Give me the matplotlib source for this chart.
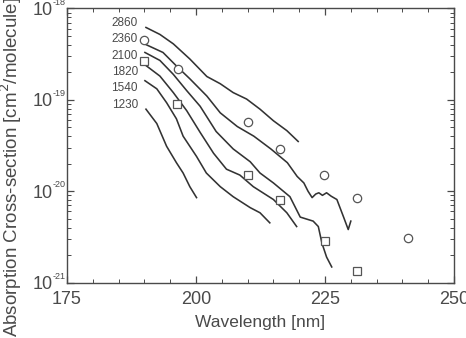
import numpy as np
import matplotlib
matplotlib.use("Agg")
import matplotlib.pyplot as plt
import matplotlib.transforms as mtransforms
from matplotlib.ticker import MultipleLocator, LogLocator, FixedLocator, FixedFormatter

plt.rcParams['font.family'] = ['Liberation Sans', 'DejaVu Sans']

# curve data (wavelength nm, cross-section cm^2/molecule), labels are temperatures
labels = ["2860", "2360", "2100", "1820", "1540", "1230"]

wl_2860 = [190.3, 193.0, 195.6, 198.8, 202.1, 204.7, 207.2, 209.8, 212.4, 215.0, 217.6, 219.8]
xs_2860 = [6.2e-19, 5.2e-19, 4.1e-19, 2.8e-19, 1.8e-19, 1.5e-19, 1.2e-19, 1.02e-19, 7.9e-20, 5.9e-20, 4.6e-20, 3.5e-20]

wl_2360 = [190.4, 193.6, 196.2, 198.8, 202.1, 204.7, 208.0, 211.2, 214.5, 217.7, 219.6, 220.9,
           221.7, 222.5, 223.2, 223.8, 224.5, 225.3, 226.2, 227.3, 228.6, 229.5, 230.0]
xs_2360 = [4.0e-19, 3.3e-19, 2.35e-19, 1.7e-19, 1.1e-19, 7.2e-20, 5.1e-20, 4.0e-20, 2.9e-20, 2.05e-20, 1.45e-20, 1.23e-20,
           1.0e-20, 8.5e-21, 9.3e-21, 9.6e-21, 9.0e-21, 9.6e-21, 8.8e-21, 8.1e-21, 5.2e-21, 3.8e-21, 4.7e-21]

wl_2100 = [190.1, 193.0, 195.6, 198.2, 200.8, 203.9, 207.2, 210.5, 212.4, 215.0, 218.2, 220.2, 222.7, 223.7, 224.4, 225.3, 226.3]
xs_2100 = [3.3e-19, 2.7e-19, 1.9e-19, 1.26e-19, 8.5e-20, 4.5e-20, 2.9e-20, 2.1e-20, 1.58e-20, 1.23e-20, 8.7e-21, 5.2e-21,
           4.7e-21, 4.1e-21, 2.7e-21, 1.9e-21, 1.48e-21]

wl_1820 = [190.4, 193.0, 195.6, 198.2, 200.8, 203.4, 205.9, 208.5, 211.1, 215.0, 217.6, 219.5]
xs_1820 = [2.35e-19, 1.82e-19, 1.2e-19, 7.6e-20, 4.4e-20, 2.6e-20, 1.74e-20, 1.5e-20, 1.12e-20, 8.1e-21, 5.8e-21, 4.1e-21]

wl_1540 = [190.1, 192.4, 194.3, 196.2, 197.5, 200.1, 202.0, 204.7, 207.2, 210.5, 212.4, 214.3]
xs_1540 = [1.62e-19, 1.32e-19, 9.3e-20, 6.2e-20, 4.0e-20, 2.4e-20, 1.58e-20, 1.12e-20, 8.7e-21, 6.6e-21, 5.8e-21, 4.5e-21]

wl_1230 = [190.3, 192.4, 194.3, 196.2, 197.5, 198.8, 200.1]
xs_1230 = [7.9e-20, 5.5e-20, 3.1e-20, 2.05e-20, 1.58e-20, 1.12e-20, 8.5e-21]

# measured points
circ_wl = [190.0, 196.5, 210.0, 216.3, 224.8, 231.2, 241.0]
circ_xs = [4.5e-19, 2.2e-19, 5.75e-20, 2.9e-20, 1.52e-20, 8.4e-21, 3.06e-21]
sq_wl = [190.0, 196.4, 210.0, 216.3, 225.0, 231.2]
sq_xs = [2.67e-19, 8.9e-20, 1.52e-20, 8.0e-21, 2.84e-21, 1.35e-21]

# y tick decades and their exponents
ytick_vals = [1e-21, 1e-20, 1e-19, 1e-18]
ytick_exp = ["-21", "-20", "-19", "-18"]

curves = [(wl_2860, xs_2860), (wl_2360, xs_2360), (wl_2100, xs_2100),
          (wl_1820, xs_1820), (wl_1540, xs_1540), (wl_1230, xs_1230)]

ink = "#333333"
grey = "#4a4a4a"

fig = plt.figure(figsize=(4.66, 3.38), dpi=100)
ax = fig.add_axes([0.1438, 0.1642, 0.8305, 0.8107])

for wl, xs in curves:
    ax.plot(wl, xs, color=ink, lw=1.15)

ax.plot(circ_wl, circ_xs, "o", mfc="white", mec="#555555", ms=6, mew=0.9, ls="none")
ax.plot(sq_wl, sq_xs, "s", mfc="white", mec="#555555", ms=5.5, mew=0.9, ls="none")

label_y = [0.947, 0.889, 0.827, 0.768, 0.710, 0.648]
for lab, yy in zip(labels, label_y):
    ax.text(0.183, yy, lab, transform=ax.transAxes, ha="right", va="center",
            fontsize=8.5, color=grey)

ax.set_yscale("log")
ax.set_xlim(175, 250)
ax.set_ylim(1e-21, 1e-18)
ax.xaxis.set_major_locator(MultipleLocator(25))
ax.xaxis.set_minor_locator(MultipleLocator(5))
ax.yaxis.set_major_locator(FixedLocator(ytick_vals))
ax.yaxis.set_major_formatter(FixedFormatter(["10"] * len(ytick_vals)))
ax.yaxis.set_minor_locator(LogLocator(base=10, subs=np.arange(2, 10), numticks=10))

ax.tick_params(which="both", direction="in", top=True, right=True, colors=grey,
               labelsize=13, labelcolor=grey)
ax.tick_params(which="major", length=5, width=0.9)
ax.tick_params(which="minor", length=3, width=0.7)
ax.tick_params(axis="x", which="major", pad=6)
ax.tick_params(axis="y", which="major", pad=10)

# small superscript exponents next to the "10" labels
base = mtransforms.blended_transform_factory(ax.transAxes, ax.transData)
for val, ex in zip(ytick_vals, ytick_exp):
    tr = mtransforms.offset_copy(base, fig=fig, x=-10.5, y=4.5, units="points")
    ax.text(0, val, ex, transform=tr, ha="left", va="center", fontsize=6.5,
            color=grey, clip_on=False)

for sp in ax.spines.values():
    sp.set_color(grey)
    sp.set_linewidth(1.0)

ax.set_xlabel("Wavelength [nm]", fontsize=12.5, color=grey, labelpad=5)
ax.set_ylabel("Absorption Cross-section [cm$^2$/molecule]", fontsize=13.5, color=grey)
ax.yaxis.set_label_coords(-0.11, 0.42)

plt.savefig("out.png", dpi=100)
